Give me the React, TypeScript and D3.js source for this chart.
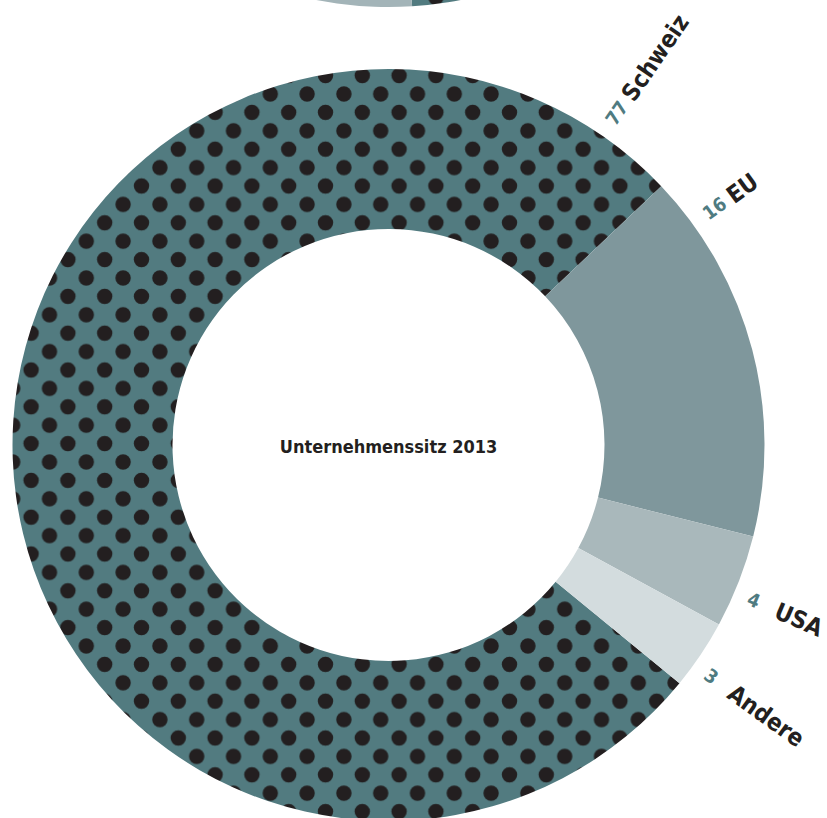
import React from "react";
import * as d3 from "d3";

// Unternehmenssitz 2013 (Anteile in %)
const categories = ["Schweiz", "EU", "USA", "Andere"];
const shares = [77, 16, 4, 3];
const colors = ["#527b80", "#7f979c", "#a9b8bb", "#d3dcde"];

// upper chart, only its bottom edge is in view
const prevCategories = ["Schweiz", "Ausland"];
const prevShares = [49, 51];
const prevColors = ["#527b80", "#a3b4b8"];

const title = "Unternehmenssitz 2013";

const W = 827;
const H = 818;
const cx = 388.5;
const cy = 445;
const outerR = 376;
const innerR = 216;
const font = "'DejaVu Sans Condensed', 'DejaVu Sans', sans-serif";
const rad = (deg: number) => (deg * Math.PI) / 180;

// EU starts at this angle (clockwise from 12 o'clock)
const euStart = rad(46.5);

const App = () => {
  const total = d3.sum(shares);
  const rows = categories.map((c, i) => ({ cat: c, value: shares[i], color: colors[i] }));
  const start = euStart - (shares[0] / total) * 2 * Math.PI;

  const pie = d3
    .pie<any>()
    .sort(null)
    .value((d) => d.value)
    .startAngle(start)
    .endAngle(start + 2 * Math.PI);
  const arcs = pie(rows);

  const arc = d3.arc<any>().innerRadius(innerR).outerRadius(outerR);

  const prevRows = prevCategories.map((c, i) => ({ cat: c, value: prevShares[i], color: prevColors[i] }));
  const prevArcs = d3
    .pie<any>()
    .sort(null)
    .value((d) => d.value)(prevRows);

  // labels sit close to the top-right boundary for the big slices
  const labelAngle = (a: any) => {
    if (a.data.cat === "Schweiz") return a.endAngle - rad(12);
    if (a.data.cat === "EU") return a.startAngle + rad(7.5);
    return (a.startAngle + a.endAngle) / 2 + rad(1.7);
  };

  const fillFor = (d: any) => (d.cat === "Schweiz" ? "url(#dots)" : d.color);

  return (
    <svg
      width={W}
      height={H}
      style={{ position: "absolute", left: 0, top: 0, background: "#fff" }}
    >
      <defs>
        <pattern id="dots" patternUnits="userSpaceOnUse" x={29} y={17} width={36.8} height={36.8}>
          <rect width={36.8} height={36.8} fill="#527b80" />
          <circle cx={0} cy={0} r={7.7} fill="#231f20" />
          <circle cx={36.8} cy={0} r={7.7} fill="#231f20" />
          <circle cx={0} cy={36.8} r={7.7} fill="#231f20" />
          <circle cx={36.8} cy={36.8} r={7.7} fill="#231f20" />
          <circle cx={18.4} cy={18.4} r={7.7} fill="#231f20" />
        </pattern>
      </defs>

      <g transform={`translate(${cx},${cy - 814})`}>
        {prevArcs.map((a, i) => (
          <path key={i} d={arc(a) as string} fill={fillFor(a.data)} />
        ))}
      </g>

      <g transform={`translate(${cx},${cy})`}>
        {arcs.map((a, i) => (
          <path key={i} d={arc(a) as string} fill={fillFor(a.data)} />
        ))}

        <text
          x={0}
          y={8}
          textAnchor="middle"
          fontFamily={font}
          fontWeight="bold"
          fontSize={18}
          fill="#231f20"
        >
          {title}
        </text>

        {arcs.map((a, i) => {
          const deg = (labelAngle(a) * 180) / Math.PI - 90;
          return (
            <g key={"l" + i} transform={`rotate(${deg})`}>
              <text
                x={391}
                y={0}
                dy="0.36em"
                fontFamily={font}
                fontWeight="bold"
                fontSize={19}
                fill="#4f7b81"
              >
                {a.data.value}
              </text>
              <text
                x={421}
                y={0}
                dy="0.36em"
                fontFamily={font}
                fontWeight="bold"
                fontSize={24}
                fill="#231f20"
              >
                {a.data.cat}
              </text>
            </g>
          );
        })}
      </g>
    </svg>
  );
};

export default App;
